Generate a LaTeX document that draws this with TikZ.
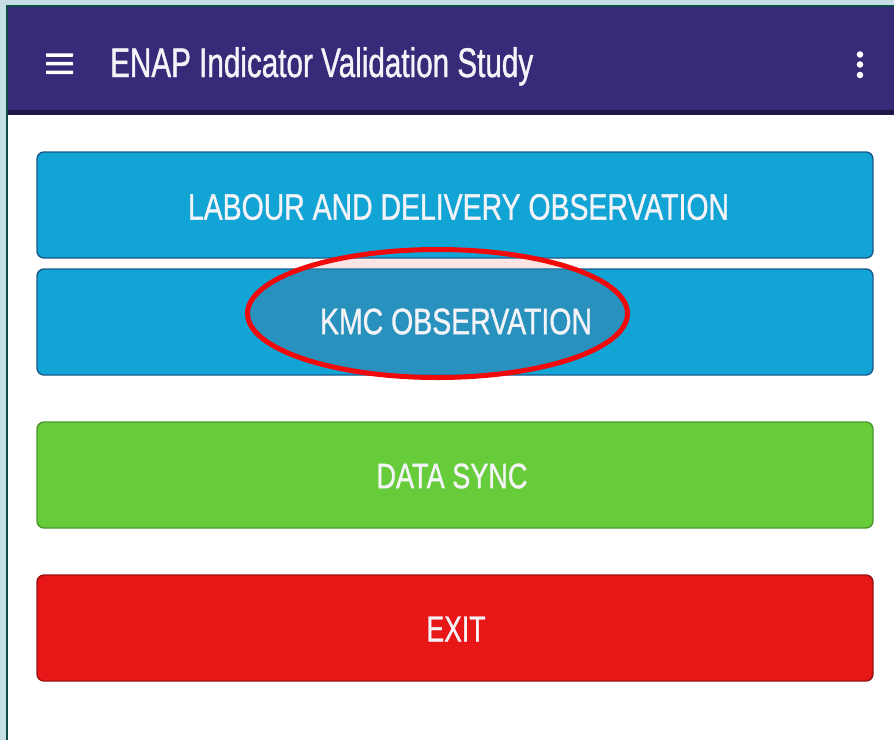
\documentclass[tikz,border=0pt]{standalone}
\usepackage{fontspec}
\setmainfont{Liberation Sans}
\newfontfamily\uifont[FakeBold=1.1]{Liberation Sans}
\usetikzlibrary{shapes.geometric}
\definecolor{outerbg}{HTML}{C6DFE4}
\definecolor{frameline}{HTML}{0F4A45}
\definecolor{headbg}{HTML}{372A79}
\definecolor{headshade}{HTML}{1E1746}
\definecolor{btnblue}{HTML}{13A4D6}
\definecolor{btnblueedge}{HTML}{1B5A8A}
\definecolor{btngreen}{HTML}{66CC3A}
\definecolor{btngreenedge}{HTML}{4A9630}
\definecolor{btnred}{HTML}{E81717}
\definecolor{btnrededge}{HTML}{9A1212}
\definecolor{hlfill}{HTML}{2891BE}
\definecolor{hlpink}{HTML}{FCE4E5}
\definecolor{hlred}{HTML}{F00A0A}
\definecolor{labelwhite}{HTML}{F4F4F8}
\tikzset{
  appbutton/.style={rectangle, rounded corners=7pt, line width=1.4pt, minimum width=836pt, minimum height=106pt, inner sep=0pt},
  btnlabel/.style={inner sep=0pt, text=labelwhite, font=\uifont},
  menubar/.style={fill=white, rounded corners=0.6pt},
}
\newcommand{\caplabel}[3]{\resizebox*{#1}{#2}{#3}}
\begin{document}
\begin{tikzpicture}[x=1pt, y=-1pt]
\useasboundingbox (0,0) rectangle (894,740);
% outer background and frame
\fill[outerbg] (0,0) rectangle (894,740);
\fill[white] (8,7) rectangle (894,740);
% header bar
\fill[headbg] (8,7) rectangle (894,110);
\shade[top color=headshade, bottom color=headbg!60!black] (8,110) rectangle (894,114);
\draw[frameline, line width=2pt] (7,740) -- (7,6) -- (894,6);
% hamburger icon
\fill[menubar] (46,53.3) rectangle (73,56.8);
\fill[menubar] (46,61.9) rectangle (73,65.4);
\fill[menubar] (46,70.6) rectangle (73,74.1);
% title
\node[anchor=base west, btnlabel] (title) at (110,77)
  {\resizebox{423pt}{30pt}{ENAP Indicator Validation Study}};
% overflow dots
\fill[white] (860,54.5) circle (3.3pt);
\fill[white] (860,64.5) circle (3.3pt);
\fill[white] (860,75) circle (3.3pt);
% buttons
\node[appbutton, fill=btnblue, draw=btnblueedge] (labour) at (455,205) {};
\node[appbutton, fill=btnblue, draw=btnblueedge] (kmc) at (455,322) {};
\node[appbutton, fill=btngreen, draw=btngreenedge] (sync) at (455,475) {};
\node[appbutton, fill=btnred, draw=btnrededge] (exit) at (455,628) {};
% highlight fill
\begin{scope}
  \clip (437.5,313.5) ellipse [x radius=190pt, y radius=64pt];
  \fill[hlpink] (37,258.7) rectangle (873,268.3);
  \fill[hlfill, rounded corners=7pt] (37.7,269.7) rectangle (872.3,374.3);
\end{scope}
% labels
\node[btnlabel] (labourlabel) at (458.5,207)
  {\caplabel{541pt}{26pt}{LABOUR AND DELIVERY OBSERVATION}};
\node[btnlabel] (kmclabel) at (456,321.5)
  {\caplabel{272pt}{26pt}{KMC OBSERVATION}};
\node[btnlabel] (synclabel) at (452,476)
  {\caplabel{151pt}{25pt}{DATA SYNC}};
\node[btnlabel] (exitlabel) at (456,629)
  {\caplabel{59pt}{25pt}{EXIT}};
% highlight ellipse
\node[ellipse, draw=hlred, line width=5pt, minimum width=380pt, minimum height=128pt, inner sep=0pt] (highlight) at (437.5,313.5) {};
\end{tikzpicture}
\end{document}
